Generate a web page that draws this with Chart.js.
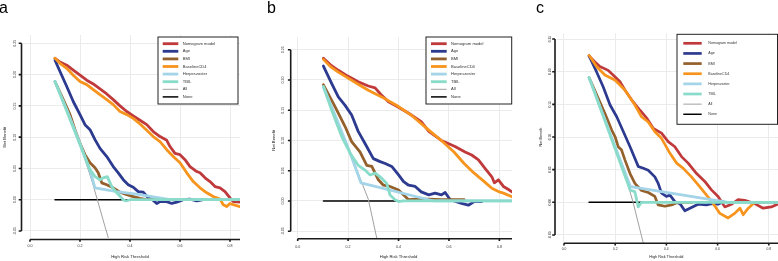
<!DOCTYPE html>
<html><head><meta charset="utf-8">
<script src="https://cdn.jsdelivr.net/npm/chart.js@4.4.1/dist/chart.umd.min.js"></script>
<style>
html,body{margin:0;padding:0;background:#fff;}
#wrap{position:relative;width:778px;height:261px;overflow:hidden;background:#fff;}
canvas{position:absolute;top:0;}
.lbl{position:absolute;font-family:Arial,"Liberation Sans",sans-serif;font-size:16px;line-height:16px;color:#000;}
</style></head><body>
<div id="wrap">
<canvas id="ca" width="250" height="261" style="left:0px"></canvas>
<canvas id="cb" width="260" height="261" style="left:255px"></canvas>
<canvas id="cc" width="263" height="261" style="left:515px"></canvas>
<div class="lbl" style="left:-1px;top:0px">a</div>
<div class="lbl" style="left:267px;top:0px">b</div>
<div class="lbl" style="left:536px;top:0px">c</div>
</div>
<script>
// ---------- data ----------
const seriesNames = ["Nomogram model","Age","BMI","BaselineCD4","Herpeszoster","TBIL","All","None"];
const xTicks = [0, 0.2, 0.4, 0.6, 0.8];
const xTickLabels = ["0.0","0.2","0.4","0.6","0.8"];
const yTicks = [-0.05, 0, 0.05, 0.10, 0.15, 0.20, 0.25];
const yTickLabels = ["-0.05","0.00","0.05","0.10","0.15","0.20","0.25"];
const xTitle = "High Risk Threshold";
const yTitle = "Net Benefit";

// panel a
const a_nomogram = [[0.1,0.226],[0.12,0.220],[0.147,0.215],[0.173,0.207],[0.2,0.199],[0.227,0.191],[0.253,0.185],[0.28,0.177],[0.307,0.169],[0.333,0.160],[0.36,0.150],[0.387,0.141],[0.413,0.134],[0.44,0.127],[0.467,0.120],[0.493,0.109],[0.52,0.101],[0.547,0.095],[0.56,0.085],[0.58,0.074],[0.6,0.072],[0.62,0.064],[0.64,0.053],[0.667,0.045],[0.68,0.043],[0.7,0.035],[0.72,0.029],[0.74,0.021],[0.76,0.019],[0.78,0.013],[0.8,0.003],[0.813,-0.003],[0.84,-0.004]];
const a_age = [[0.1,0.223],[0.12,0.205],[0.147,0.181],[0.173,0.157],[0.2,0.136],[0.22,0.120],[0.24,0.112],[0.26,0.096],[0.28,0.082],[0.307,0.069],[0.333,0.053],[0.353,0.043],[0.373,0.032],[0.393,0.024],[0.413,0.020],[0.433,0.013],[0.453,0.012],[0.473,0.003],[0.493,-0.001],[0.507,-0.006],[0.52,-0.003],[0.547,-0.003],[0.567,-0.006],[0.587,-0.004],[0.613,0.000],[0.64,0.001],[0.667,-0.002],[0.693,0.000]];
const a_bmi = [[0.1,0.189],[0.133,0.160],[0.16,0.136],[0.18,0.112],[0.2,0.090],[0.22,0.072],[0.24,0.059],[0.26,0.051],[0.273,0.043],[0.287,0.027],[0.307,0.024],[0.333,0.019],[0.36,0.012],[0.387,0.008],[0.413,0.005],[0.44,0.002],[0.467,0.000],[0.52,0.000]];
const a_cd4 = [[0.1,0.226],[0.12,0.218],[0.147,0.210],[0.173,0.199],[0.2,0.189],[0.227,0.184],[0.253,0.176],[0.28,0.168],[0.307,0.160],[0.333,0.152],[0.36,0.141],[0.387,0.136],[0.413,0.130],[0.44,0.121],[0.467,0.111],[0.493,0.101],[0.52,0.093],[0.547,0.080],[0.573,0.069],[0.6,0.059],[0.627,0.043],[0.653,0.029],[0.68,0.019],[0.707,0.011],[0.733,0.005],[0.76,0.001],[0.773,-0.008],[0.787,-0.011],[0.8,-0.006],[0.813,-0.008],[0.84,-0.011]];
const a_herpes = [[0.1,0.189],[0.15,0.141],[0.2,0.090],[0.24,0.046],[0.26,0.019],[0.347,0.013],[0.44,0.008],[0.56,0.000],[0.84,0.000]];
const a_tbil = [[0.1,0.189],[0.24,0.048],[0.26,0.037],[0.28,0.032],[0.293,0.035],[0.309,0.037],[0.327,0.021],[0.347,0.011],[0.373,0.000],[0.384,-0.002],[0.4,0.000],[0.84,0.000]];
const a_all = [[0.1,0.189],[0.15,0.141],[0.2,0.088],[0.25,0.027],[0.3,-0.043],[0.32,-0.070]];
const a_none = [[0.1,0],[0.84,0]];

// panel b
const b_nomogram = [[0.102,0.236],[0.13,0.225],[0.161,0.216],[0.2,0.206],[0.24,0.197],[0.28,0.190],[0.307,0.187],[0.33,0.176],[0.36,0.164],[0.4,0.155],[0.44,0.145],[0.49,0.131],[0.52,0.115],[0.57,0.100],[0.624,0.090],[0.664,0.081],[0.69,0.076],[0.717,0.068],[0.743,0.054],[0.77,0.040],[0.78,0.030],[0.796,0.035],[0.816,0.024],[0.836,0.019],[0.85,0.015]];
const b_age = [[0.102,0.223],[0.135,0.194],[0.161,0.172],[0.188,0.158],[0.214,0.142],[0.24,0.115],[0.267,0.095],[0.30,0.070],[0.327,0.065],[0.347,0.062],[0.373,0.057],[0.40,0.043],[0.42,0.032],[0.44,0.026],[0.466,0.024],[0.49,0.015],[0.52,0.010],[0.545,0.013],[0.57,0.010],[0.585,0.014],[0.605,0.002],[0.65,-0.004],[0.677,-0.007],[0.70,-0.001],[0.73,-0.001]];
const b_bmi = [[0.102,0.192],[0.148,0.156],[0.188,0.123],[0.214,0.098],[0.247,0.081],[0.274,0.059],[0.294,0.057],[0.32,0.035],[0.34,0.026],[0.366,0.024],[0.40,0.018],[0.44,0.002],[0.466,0.003],[0.52,0.003],[0.57,0.002],[0.62,0.002],[0.66,0.002]];
const b_cd4 = [[0.102,0.234],[0.13,0.222],[0.161,0.213],[0.2,0.203],[0.24,0.193],[0.28,0.183],[0.333,0.172],[0.4,0.156],[0.45,0.142],[0.52,0.117],[0.57,0.100],[0.62,0.081],[0.66,0.062],[0.70,0.046],[0.74,0.032],[0.77,0.021],[0.80,0.015],[0.816,0.013],[0.85,0.007]];
const b_herpes = [[0.102,0.189],[0.15,0.140],[0.2,0.088],[0.251,0.030],[0.52,0.002],[0.54,0.000],[0.85,0.000]];
const b_tbil = [[0.102,0.189],[0.135,0.150],[0.175,0.106],[0.208,0.079],[0.24,0.059],[0.267,0.051],[0.287,0.043],[0.307,0.046],[0.327,0.040],[0.353,0.029],[0.366,0.010],[0.386,0.002],[0.40,-0.001],[0.42,0.000],[0.85,0.000]];
const b_all = [[0.102,0.189],[0.15,0.140],[0.2,0.090],[0.25,0.035],[0.28,0.003],[0.316,-0.066]];
const b_none = [[0.102,0],[0.85,0]];

// panel c
const c_nomogram = [[0.098,0.224],[0.121,0.215],[0.14,0.208],[0.173,0.202],[0.2,0.192],[0.218,0.185],[0.238,0.172],[0.264,0.157],[0.297,0.141],[0.323,0.129],[0.349,0.113],[0.381,0.106],[0.407,0.093],[0.433,0.085],[0.459,0.070],[0.485,0.060],[0.518,0.044],[0.55,0.032],[0.576,0.019],[0.602,0.009],[0.628,-0.007],[0.654,-0.003],[0.68,0.004],[0.706,0.003],[0.745,-0.002],[0.778,-0.009],[0.81,-0.007],[0.84,-0.002]];
const c_age = [[0.098,0.224],[0.127,0.200],[0.153,0.177],[0.18,0.149],[0.206,0.131],[0.232,0.108],[0.258,0.085],[0.29,0.055],[0.31,0.052],[0.329,0.049],[0.355,0.039],[0.368,0.029],[0.381,0.014],[0.40,0.009],[0.414,0.011],[0.433,0.001],[0.453,-0.002],[0.472,-0.013],[0.498,-0.008],[0.524,-0.003],[0.557,-0.004],[0.576,-0.002],[0.602,-0.003],[0.622,0.001]];
const c_bmi = [[0.098,0.191],[0.16,0.136],[0.186,0.111],[0.2,0.100],[0.212,0.085],[0.225,0.080],[0.238,0.065],[0.258,0.044],[0.277,0.029],[0.303,0.018],[0.329,0.015],[0.355,0.009],[0.368,-0.004],[0.394,-0.006],[0.42,-0.004],[0.446,0.000],[0.5,0.000]];
const c_cd4 = [[0.098,0.225],[0.127,0.208],[0.16,0.195],[0.2,0.187],[0.238,0.172],[0.277,0.149],[0.303,0.131],[0.329,0.123],[0.355,0.108],[0.381,0.098],[0.414,0.075],[0.44,0.060],[0.466,0.052],[0.498,0.039],[0.53,0.024],[0.557,0.011],[0.583,-0.002],[0.609,-0.017],[0.641,-0.024],[0.667,-0.017],[0.687,-0.009],[0.70,-0.019],[0.72,-0.009],[0.745,0.000],[0.84,0.000]];
const c_herpes = [[0.098,0.191],[0.2,0.085],[0.26,0.024],[0.641,0.000],[0.84,0.000]];
const c_tbil = [[0.098,0.191],[0.258,0.019],[0.277,0.016],[0.29,-0.007],[0.303,0.000],[0.84,0.000]];
const c_all = [[0.098,0.191],[0.2,0.083],[0.25,0.027],[0.27,0.000],[0.312,-0.066]];
const c_none = [[0.098,0],[0.84,0]];

// ---------- styles ----------
const seriesColors = ["#C0393B","#2C3A8F","#94602B","#F7941D","#A3D4E8","#88DCC9","#A0A0A0","#000000"];
const drawOrder = [5,4,3,2,1,0,6,7]; // lower = on top
const FONT = 'Arial, "Liberation Sans", sans-serif';

const panels = [
  { id:'ca', W:250, H:261, series:[a_nomogram,a_age,a_bmi,a_cd4,a_herpes,a_tbil,a_all,a_none],
    area:{l:23,r:240,t:35,b:238}, xr:[-0.028,0.84], yr:[-0.0612,0.2633],
    yAxisX:21.5, yLabelX:15, yTitleX:5, xAxisY:239.5, xLabelY:246, xTitleY:257,
    tickFont:3.6, titleFont:4.2, lw:2.8, thin:1, blk:1.5,
    legend:{x0:158,x1:238,y0:37,y1:104,row0:43.7,dy:7.6,l0:162.7,l1:178.3,tx:182.7,font:4.1} },
  { id:'cb', W:260, H:261, series:[b_nomogram,b_age,b_bmi,b_cd4,b_herpes,b_tbil,b_all,b_none],
    area:{l:37,r:257,t:37,b:238}, xr:[-0.0226,0.850], yr:[-0.0612,0.271],
    yAxisX:35.7, yLabelX:28, yTitleX:19, xAxisY:238.7, xLabelY:246.7, xTitleY:256.7,
    tickFont:3.6, titleFont:4.2, lw:2.8, thin:1, blk:1.5,
    legend:{x0:171,x1:256.7,y0:37,y1:104,row0:43.7,dy:7.6,l0:176,l1:191.7,tx:196,font:4.1} },
  { id:'cc', W:263, H:261, series:[c_nomogram,c_age,c_bmi,c_cd4,c_herpes,c_tbil,c_all,c_none],
    area:{l:42,r:263,t:33.3,b:243}, xr:[-0.0273,0.836], yr:[-0.0623,0.2588],
    yAxisX:40, yLabelX:34.7, yTitleX:26, xAxisY:243.3, xLabelY:249, xTitleY:257.3,
    tickFont:3.3, titleFont:3.8, lw:2.7, thin:1, blk:1.5,
    legend:{x0:162,x1:262.5,y0:34.3,y1:124.3,row0:43.3,dy:10.14,l0:168.3,l1:186.7,tx:193.3,font:3.6} }
];
const panelById = {};
panels.forEach(P => { panelById[P.id] = P; });

const axisPlugin = {
  id:'rAxes',
  afterDraw(chart){
    const P = panelById[chart.canvas.id];
    if (!P) return;
    const ctx = chart.ctx, xs = chart.scales.x, ys = chart.scales.y;
    ctx.save();
    ctx.strokeStyle = '#1a1a1a'; ctx.lineWidth = 1.6; ctx.lineCap = 'butt';
    const yTop = ys.getPixelForValue(yTicks[yTicks.length-1]);
    const yBot = ys.getPixelForValue(yTicks[0]);
    ctx.beginPath();
    ctx.moveTo(P.yAxisX, yTop); ctx.lineTo(P.yAxisX, yBot);
    yTicks.forEach(v => { const p = ys.getPixelForValue(v); ctx.moveTo(P.yAxisX, p); ctx.lineTo(P.yAxisX-2.8, p); });
    ctx.stroke();
    const x0 = xs.getPixelForValue(xTicks[0]);
    ctx.beginPath();
    ctx.moveTo(x0, P.xAxisY); ctx.lineTo(chart.chartArea.right, P.xAxisY);
    xTicks.forEach(v => { const p = xs.getPixelForValue(v); ctx.moveTo(p, P.xAxisY); ctx.lineTo(p, P.xAxisY+2.2); });
    ctx.stroke();
    ctx.fillStyle = '#333';
    ctx.textAlign = 'center'; ctx.textBaseline = 'middle';
    ctx.font = P.tickFont + 'px ' + FONT;
    xTicks.forEach((v,i) => ctx.fillText(xTickLabels[i], xs.getPixelForValue(v), P.xLabelY));
    yTicks.forEach((v,i) => {
      ctx.save(); ctx.translate(P.yLabelX, ys.getPixelForValue(v)); ctx.rotate(-Math.PI/2);
      ctx.fillText(yTickLabels[i], 0, 0); ctx.restore();
    });
    ctx.font = P.titleFont + 'px ' + FONT;
    ctx.fillStyle = '#222';
    const xm = (xs.getPixelForValue(xTicks[0]) + xs.getPixelForValue(xTicks[xTicks.length-1]))/2;
    ctx.fillText(xTitle, xm, P.xTitleY);
    const ym = (ys.getPixelForValue(yTicks[0]) + ys.getPixelForValue(yTicks[yTicks.length-1]))/2;
    ctx.save(); ctx.translate(P.yTitleX, ym); ctx.rotate(-Math.PI/2); ctx.fillText(yTitle, 0, 0); ctx.restore();
    const L = P.legend;
    ctx.fillStyle = '#fff';
    ctx.fillRect(L.x0, L.y0, L.x1-L.x0, L.y1-L.y0);
    ctx.strokeStyle = '#222'; ctx.lineWidth = 1;
    ctx.strokeRect(L.x0, L.y0, L.x1-L.x0, L.y1-L.y0);
    ctx.font = L.font + 'px ' + FONT; ctx.textAlign = 'left';
    chart.data.datasets.forEach((ds, i) => {
      const y = L.row0 + i*L.dy;
      ctx.beginPath(); ctx.strokeStyle = ds.borderColor; ctx.lineWidth = ds.borderWidth;
      ctx.moveTo(L.l0, y); ctx.lineTo(L.l1, y); ctx.stroke();
      ctx.fillStyle = '#333';
      ctx.fillText(ds.label, L.tx, y);
    });
    ctx.restore();
  }
};

panels.forEach(P => {
  const datasets = P.series.map((s, i) => ({
    label: seriesNames[i],
    data: s.map(p => ({x:p[0], y:p[1]})),
    borderColor: seriesColors[i],
    borderWidth: i === 6 ? P.thin : (i === 7 ? P.blk : P.lw),
    pointRadius: 0, tension: 0, fill: false,
    borderCapStyle: 'round', borderJoinStyle: 'round',
    order: drawOrder[i]
  }));
  new Chart(document.getElementById(P.id), {
    type: 'line',
    data: { datasets },
    options: {
      responsive: false, animation: false, devicePixelRatio: 1,
      layout: { padding: { left: 0, right: P.W - P.area.r, top: P.area.t, bottom: 0 } },
      plugins: { legend: { display: false }, tooltip: { enabled: false } },
      scales: {
        x: { type: 'linear', min: P.xr[0], max: P.xr[1],
             afterBuildTicks: s => { s.ticks = xTicks.map(v => ({value: v})); },
             afterFit: s => { s.height = P.H - P.area.b; },
             grid: { color: '#EBEBEB', lineWidth: 1, drawTicks: false },
             border: { display: false }, ticks: { display: false } },
        y: { type: 'linear', min: P.yr[0], max: P.yr[1],
             afterBuildTicks: s => { s.ticks = yTicks.map(v => ({value: v})); },
             afterFit: s => { s.width = P.area.l; },
             grid: { color: '#EBEBEB', lineWidth: 1, drawTicks: false },
             border: { display: false }, ticks: { display: false } }
      }
    },
    plugins: [axisPlugin]
  });
});
</script>
</body></html>
